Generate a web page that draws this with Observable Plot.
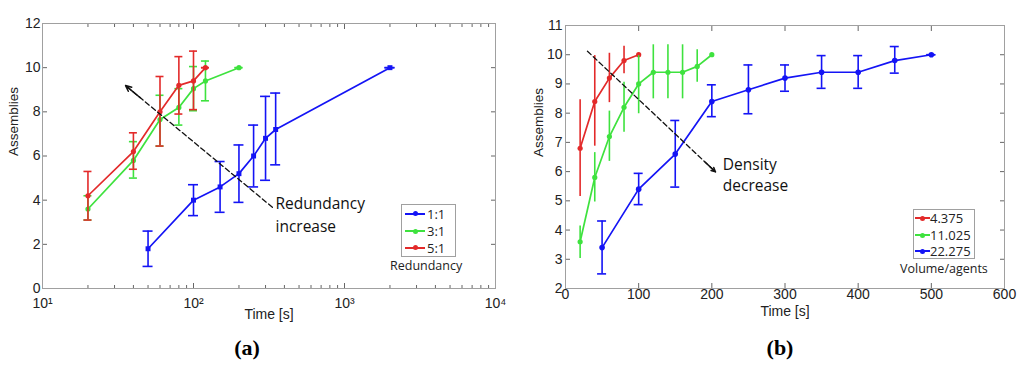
<!DOCTYPE html>
<html><head><meta charset="utf-8">
<script src="https://cdn.jsdelivr.net/npm/d3@7"></script>
<script src="https://cdn.jsdelivr.net/npm/@observablehq/plot@0.6"></script>
<style>
body{margin:0;background:#fff;}
#wrap{position:relative;width:1024px;height:372px;overflow:hidden;background:#fff;}
.panel{position:absolute;top:0;}
.cap{position:absolute;font-family:"Liberation Serif","Times New Roman",serif;font-weight:bold;font-size:22px;transform:translate(-50%,-50%);color:#000;}
.legend{position:absolute;border:1px solid #a0a0a0;background:#fff;font-family:"Open Sans",sans-serif;font-size:13px;color:#222;box-sizing:border-box;}
.row{position:absolute;left:0;height:16px;line-height:16px;white-space:nowrap;}
.ln{position:absolute;top:7px;height:2px;}
.mk{position:absolute;top:5.5px;width:5px;height:5px;border-radius:50%;}
.lt{position:absolute;top:0;}
.ltitle{position:absolute;font-family:"Open Sans",sans-serif;font-size:12.5px;color:#222;white-space:nowrap;transform:translate(0,-50%);}
</style></head><body><div id="wrap"></div>
<script>
// ---------- Panel (a): Redundancy ----------
const redundancyLabels = ["1:1", "3:1", "5:1"];
const r11_t  = [50, 100, 150, 200, 250, 300, 350, 2000];
const r11_y  = [1.8, 4.0, 4.6, 5.2, 6.0, 6.8, 7.2, 10];
const r11_lo = [1.0, 3.3, 3.45, 3.9, 4.6, 4.9, 5.6, 10];
const r11_hi = [2.6, 4.7, 5.75, 6.5, 7.4, 8.7, 8.85, 10];
const r31_t  = [20, 40, 60, 80, 100, 120, 200];
const r31_y  = [3.6, 5.8, 7.65, 8.2, 9.05, 9.4, 10];
const r31_lo = [3.1, 5.0, 6.45, 7.4, 8.05, 8.5, 10];
const r31_hi = [4.2, 6.65, 8.75, 9.05, 10.05, 10.3, 10];
const r51_t  = [20, 40, 60, 80, 100, 120];
const r51_y  = [4.2, 6.2, 8.0, 9.2, 9.4, 10];
const r51_lo = [3.1, 5.4, 6.45, 7.9, 8.1, 10];
const r51_hi = [5.3, 7.05, 9.6, 10.5, 10.75, 10];
const xTicksA = [10, 100, 1000, 10000];
const xTickLabelsA = ["10\u00B9", "10\u00B2", "10\u00B3", "10\u2074"];
const yTicksA = [0, 2, 4, 6, 8, 10, 12];
const arrowA_x = [333, 35.5];
const arrowA_y = [3.68, 9.19];
const noteA = "Redundancy\nincrease";
const noteA_x = 349, noteA_y = 3.4;

// ---------- Panel (b): Volume/agents ----------
const volumeLabels = ["4.375", "11.025", "22.275"];
const v4_t  = [20, 40, 60, 80, 100];
const v4_y  = [6.8, 8.4, 9.2, 9.8, 10];
const v4_lo = [5.15, 6.87, 8.36, 9.35, 10];
const v4_hi = [8.46, 9.97, 10.05, 10.29, 10];
const v11_t  = [20, 40, 60, 80, 100, 120, 140, 160, 180, 200];
const v11_y  = [3.6, 5.8, 7.2, 8.2, 9.0, 9.4, 9.4, 9.4, 9.6, 10];
const v11_lo = [3.03, 4.96, 6.35, 7.35, 7.98, 8.49, 8.49, 8.49, 9.06, 10];
const v11_hi = [4.14, 6.65, 8.07, 9.06, 9.97, 10.34, 10.34, 10.34, 10.17, 10];
const v22_t  = [50, 100, 150, 200, 250, 300, 350, 400, 450, 500];
const v22_y  = [3.4, 5.4, 6.6, 8.4, 8.8, 9.2, 9.4, 9.4, 9.8, 10];
const v22_lo = [2.5, 4.87, 5.47, 7.88, 7.98, 8.75, 8.85, 8.85, 9.37, 10];
const v22_hi = [4.31, 5.94, 7.75, 8.97, 9.65, 9.65, 9.97, 9.97, 10.28, 10];
const xTicksB = [0, 100, 200, 300, 400, 500, 600];
const yTicksB = [2, 3, 4, 5, 6, 7, 8, 9, 10, 11];
const arrowB_x = [30, 205];
const arrowB_y = [10.12, 5.99];
const noteB = "Density\ndecrease";
const noteB_x = 215, noteB_y = 5.92;

const BLUE = "#1414f5", GREEN = "#3ee23e", RED = "#e32a2a";

function rows(t, y, lo, hi) { return t.map((d, i) => ({t: d, y: y[i], lo: lo[i], hi: hi[i]})); }

function seriesMarks(data, color, {caps = true, capW = 4, symbol = "circle", r = 2.6} = {}) {
  const m = [
    Plot.ruleX(data, {x: "t", y1: "lo", y2: "hi", stroke: color, strokeWidth: 1.6}),
    Plot.line(data, {x: "t", y: "y", stroke: color, strokeWidth: 1.7}),
    Plot.dot(data, {x: "t", y: "y", fill: color, r, symbol})
  ];
  if (caps) {
    m.push(Plot.ruleY(data, {y: "hi", x1: "t", x2: "t", insetLeft: -capW, insetRight: -capW, stroke: color, strokeWidth: 1.6}));
    m.push(Plot.ruleY(data, {y: "lo", x1: "t", x2: "t", insetLeft: -capW, insetRight: -capW, stroke: color, strokeWidth: 1.6}));
  }
  return m;
}

const FS = 14;
const axisStyle = {fontFamily: "'Liberation Sans', Arial, sans-serif", fontSize: FS + "px", color: "#222", background: "white", overflow: "visible"};
const TICK = "#666";

const wrap = document.getElementById("wrap");

// ----- Panel A -----
const headA_x = [arrowA_x[0] * Math.pow(arrowA_x[1] / arrowA_x[0], 0.9), arrowA_x[1]];
const headA_y = [arrowA_y[0] + (arrowA_y[1] - arrowA_y[0]) * 0.9, arrowA_y[1]];
const plotA = Plot.plot({
  width: 512, height: 325,
  marginLeft: 42, marginRight: 17, marginTop: 23, marginBottom: 37,
  x: {type: "log", domain: [10, 10000]},
  y: {domain: [0, 12]},
  style: axisStyle,
  marks: [
    Plot.axisX({anchor: "bottom", tickSize: -3, tickFormat: () => "", stroke: TICK, label: null}),
    Plot.axisX({anchor: "top", tickSize: -3, tickFormat: () => "", stroke: TICK, label: null}),
    Plot.axisX(xTicksA, {anchor: "bottom", tickSize: -5, tickPadding: 15, stroke: TICK, fontSize: FS, tickFormat: d => xTickLabelsA[xTicksA.indexOf(d)], label: null}),
    Plot.axisX(xTicksA, {anchor: "top", tickSize: -5, tickFormat: () => "", stroke: TICK, label: null}),
    Plot.axisY(yTicksA, {anchor: "left", tickSize: -5, tickPadding: 7, stroke: TICK, fontSize: FS, label: null}),
    Plot.axisY(yTicksA, {anchor: "right", tickSize: -5, tickFormat: () => "", stroke: TICK, label: null}),
    Plot.frame({stroke: "#a0a0a0"}),
    Plot.text(["Assemblies"], {frameAnchor: "left", dx: -29, rotate: -90, fontSize: 13.5, fill: "#222"}),
    Plot.text(["Time [s]"], {frameAnchor: "bottom", dy: 30, fontSize: 14, fill: "#222"}),
    ...seriesMarks(rows(r11_t, r11_y, r11_lo, r11_hi), BLUE, {capW: 5, symbol: "square", r: 2.8}),
    ...seriesMarks(rows(r31_t, r31_y, r31_lo, r31_hi), GREEN, {capW: 4}),
    ...seriesMarks(rows(r51_t, r51_y, r51_lo, r51_hi), RED, {capW: 4}),
    Plot.line(arrowA_x.map((d, i) => ({x: d, y: arrowA_y[i]})), {x: "x", y: "y", stroke: "#111", strokeWidth: 1.3, strokeDasharray: "5,3"}),
    Plot.arrow([0], {x1: headA_x[0], y1: headA_y[0], x2: headA_x[1], y2: headA_y[1], stroke: "#111", strokeWidth: 1.5, headLength: 9, headAngle: 50}),
    Plot.text([noteA], {x: noteA_x, y: noteA_y, textAnchor: "start", lineAnchor: "middle", lineHeight: 1.44, fontSize: 15.5, fontFamily: "'Open Sans', sans-serif", fill: "#111"})
  ]
});
const divA = document.createElement("div"); divA.className = "panel"; divA.style.left = "0px"; divA.appendChild(plotA); wrap.appendChild(divA);

// ----- Panel B -----
const headB_x = [arrowB_x[0] + (arrowB_x[1] - arrowB_x[0]) * 0.92, arrowB_x[1]];
const headB_y = [arrowB_y[0] + (arrowB_y[1] - arrowB_y[0]) * 0.92, arrowB_y[1]];
const plotB = Plot.plot({
  width: 512, height: 325,
  marginLeft: 53, marginRight: 20, marginTop: 25, marginBottom: 37,
  x: {domain: [0, 600]},
  y: {domain: [2, 11]},
  style: axisStyle,
  marks: [
    Plot.axisX(xTicksB, {anchor: "bottom", tickSize: -5, tickPadding: 6, stroke: TICK, fontSize: FS, label: null}),
    Plot.axisX(xTicksB, {anchor: "top", tickSize: -5, tickFormat: () => "", stroke: TICK, label: null}),
    Plot.axisY(yTicksB, {anchor: "left", tickSize: -5, tickPadding: 8, stroke: TICK, fontSize: FS, label: null}),
    Plot.axisY(yTicksB, {anchor: "right", tickSize: -5, tickFormat: () => "", stroke: TICK, label: null}),
    Plot.frame({stroke: "#a0a0a0"}),
    Plot.text(["Assemblies"], {frameAnchor: "left", dx: -27, rotate: -90, fontSize: 13.5, fill: "#222"}),
    Plot.text(["Time [s]"], {frameAnchor: "bottom", dy: 27, fontSize: 14, fill: "#222"}),
    ...seriesMarks(rows(v4_t, v4_y, v4_lo, v4_hi), RED, {caps: false}),
    ...seriesMarks(rows(v11_t, v11_y, v11_lo, v11_hi), GREEN, {caps: false}),
    ...seriesMarks(rows(v22_t, v22_y, v22_lo, v22_hi), BLUE, {capW: 4.5, r: 2.8}),
    Plot.line(arrowB_x.map((d, i) => ({x: d, y: arrowB_y[i]})), {x: "x", y: "y", stroke: "#111", strokeWidth: 1.3, strokeDasharray: "5,3"}),
    Plot.arrow([0], {x1: headB_x[0], y1: headB_y[0], x2: headB_x[1], y2: headB_y[1], stroke: "#111", strokeWidth: 1.5, headLength: 9, headAngle: 50}),
    Plot.text([noteB], {x: noteB_x, y: noteB_y, textAnchor: "start", lineAnchor: "middle", lineHeight: 1.35, fontSize: 15.5, fontFamily: "'Open Sans', sans-serif", fill: "#111"})
  ]
});
const divB = document.createElement("div"); divB.className = "panel"; divB.style.left = "512px"; divB.appendChild(plotB); wrap.appendChild(divB);

// ----- Legends -----
function legend(left, top, w, h, labels, colors, lineX, lineW, textX, rowTops) {
  const box = document.createElement("div");
  box.className = "legend";
  Object.assign(box.style, {left: left + "px", top: top + "px", width: w + "px", height: h + "px"});
  labels.forEach((lab, i) => {
    const r = document.createElement("div"); r.className = "row"; r.style.top = rowTops[i] + "px"; r.style.width = w + "px";
    const ln = document.createElement("div"); ln.className = "ln"; Object.assign(ln.style, {left: lineX + "px", width: lineW + "px", background: colors[i]});
    const mk = document.createElement("div"); mk.className = "mk"; Object.assign(mk.style, {left: (lineX + lineW / 2 - 2.5) + "px", background: colors[i]});
    const tx = document.createElement("div"); tx.className = "lt"; tx.style.left = textX + "px"; tx.textContent = lab;
    r.appendChild(ln); r.appendChild(mk); r.appendChild(tx); box.appendChild(r);
  });
  wrap.appendChild(box);
}
legend(401, 204, 55, 53, redundancyLabels, [BLUE, GREEN, RED], 3, 20, 25, [0.5, 18, 34.5]);
legend(913, 209, 62, 50, volumeLabels, [RED, GREEN, BLUE], 1, 15, 16, [0, 17, 33]);

function title(text, x, y) {
  const t = document.createElement("div"); t.className = "ltitle"; t.textContent = text;
  t.style.left = x + "px"; t.style.top = y + "px"; wrap.appendChild(t);
}
title("Redundancy", 390, 265);
title("Volume/agents", 900, 268);

function caption(text, x, y) {
  const c = document.createElement("div"); c.className = "cap"; c.textContent = text;
  c.style.left = x + "px"; c.style.top = y + "px"; wrap.appendChild(c);
}
caption("(a)", 247, 348);
caption("(b)", 780, 348);
</script></body></html>
